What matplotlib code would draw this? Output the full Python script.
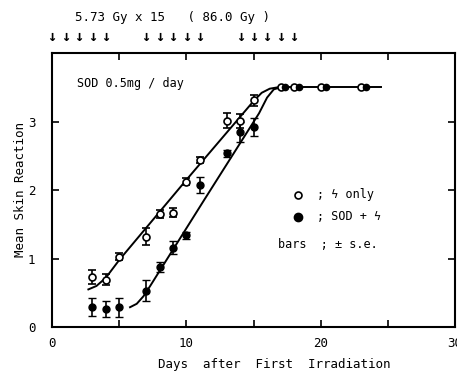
import matplotlib.pyplot as plt
import matplotlib.transforms as mtransforms

plt.rcParams['font.family'] = ['DejaVu Sans Mono', 'DejaVu Sans']

# measured points, irradiation only (open) and SOD + irradiation (filled)
days = [3, 4, 5, 7, 8, 9, 10, 11, 13, 14, 15]
open_y = [0.73, 0.69, 1.03, 1.32, 1.65, 1.67, 2.12, 2.44, 3.01, 3.01, 3.31]
open_err = [0.10, 0.08, 0.05, 0.12, 0.06, 0.07, 0.05, 0.04, 0.11, 0.10, 0.08]
sod_y = [0.29, 0.26, 0.29, 0.53, 0.88, 1.16, 1.34, 2.07, 2.54, 2.85, 2.92]
sod_err = [0.13, 0.12, 0.14, 0.15, 0.07, 0.10, 0.05, 0.12, 0.05, 0.15, 0.13]

# plateau after the end of treatment
plateau_days = [17, 18, 20, 23]
plateau_y = [3.5, 3.5, 3.5, 3.5]

# hand-drawn fit lines
open_fit_x = [2.7, 3.3, 4.0, 5.0, 10.0, 15.0, 15.6, 16.2, 16.8]
open_fit_y = [0.55, 0.60, 0.72, 0.98, 2.15, 3.30, 3.42, 3.48, 3.50]
sod_fit_x = [5.8, 6.3, 6.8, 7.3, 11.3, 15.4, 16.0, 16.5, 17.0]
sod_fit_y = [0.29, 0.34, 0.45, 0.60, 1.85, 3.12, 3.35, 3.47, 3.50]
plateau_line_x = [17.0, 24.5]
plateau_line_y = [3.5, 3.5]

# irradiation days (arrows on top)
fraction_days = [0, 1, 2, 3, 4, 7, 8, 9, 10, 11, 14, 15, 16, 17, 18]

fig = plt.figure(figsize=(4.57, 3.79), dpi=100)
ax = fig.add_axes([0.114, 0.137, 0.882, 0.723])

ax.plot(open_fit_x, open_fit_y, color="black", lw=1.4)
ax.plot(sod_fit_x, sod_fit_y, color="black", lw=1.4)
ax.plot(plateau_line_x, plateau_line_y, color="black", lw=1.4)

ax.errorbar(days, open_y, yerr=open_err, fmt="o", mfc="white", mec="black",
            ecolor="black", ms=5, capsize=3, elinewidth=1.2, mew=1.2, zorder=3)
ax.errorbar(days, sod_y, yerr=sod_err, fmt="o", color="black",
            ms=5, capsize=3, elinewidth=1.2, zorder=3)
ax.plot(plateau_days, plateau_y, "o", mfc="white", mec="black", ms=5, mew=1.2, zorder=3)
ax.plot([d + 0.35 for d in plateau_days], plateau_y, "o", color="black", ms=4.5, zorder=3)

ax.set_xlim(0, 30)
ax.set_ylim(0, 4)
ax.set_xticks([0, 5, 10, 15, 20, 25, 30])
ax.set_xticklabels(["0", "", "10", "", "20", "", "30"])
ax.set_yticks([0, 1, 2, 3])
ax.tick_params(direction="in", top=True, right=True, length=5, width=1.2, labelsize=9)
ax.tick_params(axis="x", pad=7)
ax.tick_params(axis="y", pad=12)
for s in ax.spines.values():
    s.set_linewidth(1.5)

ax.text(1.85, 3.56, "SOD 0.5mg / day", fontsize=8.5, va="center")
ax.plot([18.3], [1.93], "o", mfc="white", mec="black", ms=5, mew=1.2)
ax.text(19.7, 1.93, "; ϟ only", fontsize=8.5, va="center")
ax.plot([18.3], [1.61], "o", color="black", ms=6)
ax.text(19.7, 1.61, "; SOD + ϟ", fontsize=8.5, va="center")
ax.text(16.8, 1.2, "bars  ; ± s.e.", fontsize=8.5, va="center")

fig.text(0.045, 0.5, "Mean Skin Reaction", rotation=90, fontsize=9, va="center", ha="center")
fig.text(0.6, 0.03, "Days  after  First  Irradiation", fontsize=9, ha="center")

fig.text(0.165, 0.955, "5.73 Gy x 15   ( 86.0 Gy )", fontsize=9, va="center")
trans = mtransforms.blended_transform_factory(ax.transData, fig.transFigure)
for d in fraction_days:
    ax.text(d, 0.905, "↓", transform=trans, fontsize=11, ha="center", va="center",
            fontweight="bold", clip_on=False)

fig.savefig("out.png")
